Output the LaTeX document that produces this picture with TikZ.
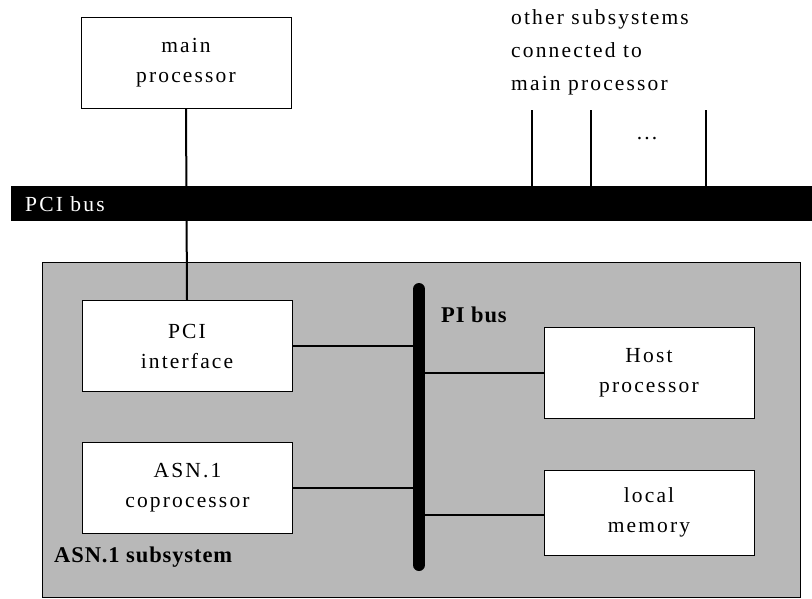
\documentclass[tikz,border=0pt]{standalone}
\usepackage{fontspec}
\setmainfont{Liberation Serif}[LetterSpace=10]
\newfontfamily\lblfont{Liberation Serif}[LetterSpace=4]
\usetikzlibrary{calc}

\tikzset{
	unit/.style={draw, fill=white, line width=1pt, minimum width=210pt, minimum height=91pt, align=center, inner sep=0pt},
	txt/.style={font=\fontsize{21.5}{30}\selectfont},
	lbl/.style={font=\lblfont\bfseries\fontsize{22.5}{24}\selectfont, inner sep=0pt},
	wire/.style={line width=2pt}
}

\begin{document}
\begin{tikzpicture}[x=1pt, y=-1pt]
	\useasboundingbox (0,0) rectangle (812,598);
	% subsystem area
	\draw[fill=black!28, line width=1pt] (42,262) rectangle (800,597);
	
	% units
	\node[unit, txt] (mainp) at (186,62.5) {main\\processor};
	\node[unit, txt] (pciif) at (187,346) {PCI\\interface};
	\node[unit, txt] (asncp) at (187.5,487.5) {ASN.1\\coprocessor};
	\node[unit, txt] (host) at (649,372.5) {Host\\processor};
	\node[unit, txt, minimum height=85pt] (locmem) at (649,512.5) {local\\memory};
	
	% main processor down to PCI interface
	\draw[wire] (mainp.south) -- (pciif.north);
	
	% PCI bus: 801 x 35
	\node[fill=black, minimum width=801pt, minimum height=35pt, inner sep=0pt, anchor=west] (pcibus) at (11,203.5) {};
	\node[txt, text=white, anchor=west, inner sep=0pt] (pcilbl) at (25,204) {PCI bus};
	
	% other subsystems
	\node[txt, align=left, anchor=west, inner sep=0pt, font=\fontsize{21.5}{33}\selectfont] (others) at (511,52) {other subsystems\\connected to\\main processor};
	\coordinate (o1) at (532,110);
	\coordinate (o2) at (591,110);
	\coordinate (o3) at (706,110);
	\foreach \o in {o1,o2,o3}
		\draw[wire] (\o) -- (\o |- pcibus.north);
	\node[txt, anchor=base, inner sep=0pt] (dots) at (647,139) {...};
	
	% PI bus
	\coordinate (pitop) at (419,289);
	\coordinate (pibot) at (419,565);
	\draw[line width=12pt, line cap=round] (pitop) -- (pibot);
	\node[lbl, anchor=west] (pilbl) at (441,315) {PI bus};
	\draw[wire] (pciif.east) -- (pciif.east -| pitop);
	\draw[wire] (asncp.east) -- (asncp.east -| pitop);
	\draw[wire] (host.west) -- (host.west -| pitop);
	\draw[wire] ($(locmem.west)+(0,2.5)$) -- ($(locmem.west -| pitop)+(0,2.5)$);
	
	\node[lbl, anchor=west] (asnlbl) at (54,557) {ASN.1 subsystem};
\end{tikzpicture}
\end{document}
